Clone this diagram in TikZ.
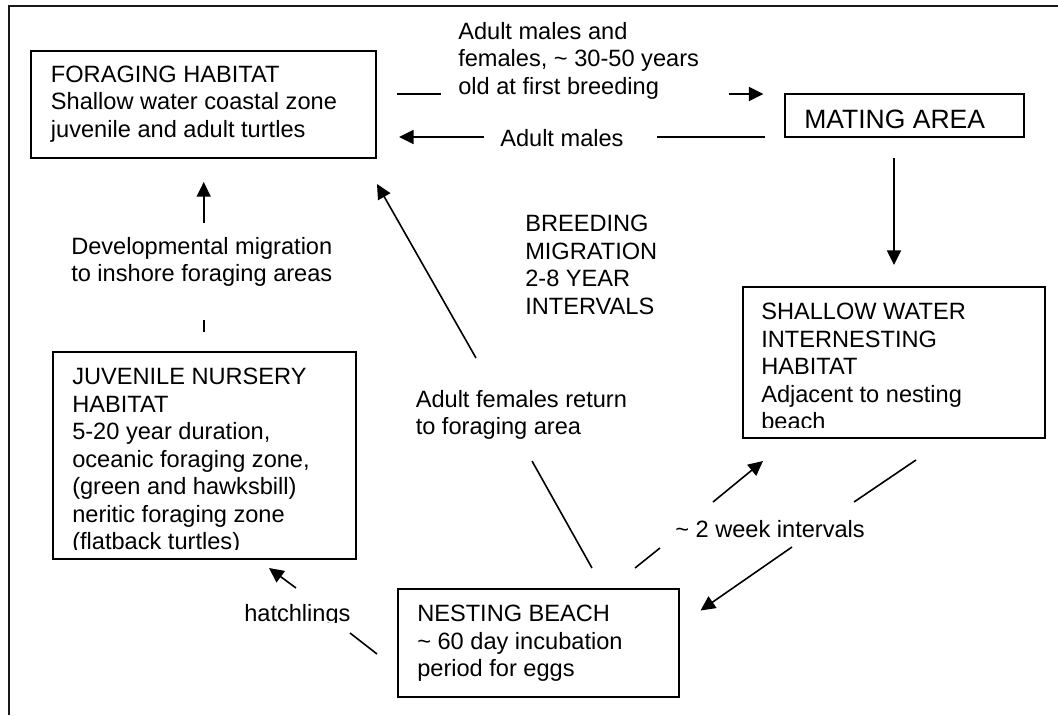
\documentclass[tikz,border=0pt]{standalone}
\usepackage{fontspec}
\setmainfont{Liberation Sans}
\usetikzlibrary{arrows.meta}
\begin{document}
\begin{tikzpicture}[x=0.75pt,y=-0.75pt,
  box/.style={draw=black, line width=1.6pt, inner sep=0pt},
  txt/.style={anchor=north west, inner sep=0pt, align=left, font=\fontsize{17.7}{20.6}\selectfont},
  bigtxt/.style={anchor=north west, inner sep=0pt, align=left, font=\fontsize{19.9}{23}\selectfont},
  conn/.style={line width=1.2pt, draw=black},
  arr/.style={conn, -{Triangle[length=11pt,width=10.5pt]}},
]
\useasboundingbox (0,0) rectangle (1058,715);
% outer frame
\draw[line width=1.6pt, draw=black!90] (9,715) -- (9,6) -- (1058,6);

% boxes
\node[box, minimum width=344.6*0.75pt, minimum height=107*0.75pt] (forage) at (203.7,104.5) {};
\node[box, minimum width=238.2*0.75pt, minimum height=43*0.75pt] (mating) at (904.5,115.5) {};
\node[box, minimum width=302*0.75pt, minimum height=151*0.75pt] (shallow) at (894,362.5) {};
\node[box, minimum width=302.7*0.75pt, minimum height=207*0.75pt] (juv) at (204.4,455.5) {};
\node[box, minimum width=281.4*0.75pt, minimum height=108*0.75pt] (nest) at (538.3,643) {};

% box texts
\node[txt] (forageT) at (50.7,65.7) {FORAGING HABITAT\\Shallow water coastal zone\\juvenile and adult turtles};
\node[bigtxt] (matingT) at (804,109.5) {MATING AREA};
\begin{scope}
\clip (743,287) rectangle (1045,427);
\node[txt] (shallowT) at (761,303) {SHALLOW WATER\\INTERNESTING\\HABITAT\\Adjacent to nesting\\beach};
\end{scope}
\begin{scope}
\clip (53,352) rectangle (355,549);
\node[txt] (juvT) at (72,368) {JUVENILE NURSERY\\HABITAT\\5-20 year duration,\\oceanic foraging zone,\\(green and hawksbill)\\neritic foraging zone\\(flatback turtles)};
\end{scope}
\node[txt] (nestT) at (417,605) {NESTING BEACH\\\textasciitilde{} 60 day incubation\\period for eggs};

% labels
\node[txt] (topL) at (458,22) {Adult males and\\females, \textasciitilde{} 30-50 years\\old at first breeding};
\node[txt] (malesL) at (500,128.7) {Adult males};
\node[txt] (breedL) at (525,215) {BREEDING\\MIGRATION\\2-8 YEAR\\INTERVALS};
\node[txt] (devL) at (71,237) {Developmental migration\\to inshore foraging areas};
\node[txt] (femL) at (415.5,390) {Adult females return\\to foraging area};
\node[txt] (weekL) at (675,520) {\textasciitilde{} 2 week intervals};
\begin{scope}
\clip (200,590) rectangle (360,622);
\node[txt] (hatchL) at (244,604) {hatchlings};
\end{scope}

% connector end points
\coordinate (c1a) at (397,94);   \coordinate (c1b) at (441,94);
\coordinate (c1c) at (729,94);   \coordinate (c1d) at (763.5,94);
\coordinate (c2a) at (765,137);  \coordinate (c2b) at (657,137);
\coordinate (c2c) at (484,137);  \coordinate (c2d) at (399,137);
\coordinate (c3a) at (894,158);  \coordinate (c3b) at (894,265);
\coordinate (c4a) at (203.7,332); \coordinate (c4b) at (203.7,320);
\coordinate (c4c) at (203.7,223); \coordinate (c4d) at (203.7,182);
\coordinate (c5a) at (592,568);  \coordinate (c5b) at (532,461);
\coordinate (c5c) at (476,358);  \coordinate (c5d) at (377,184);
\coordinate (c6a) at (635,568);  \coordinate (c6b) at (660,548);
\coordinate (c6c) at (713,502);  \coordinate (c6d) at (763,461);
\coordinate (c7a) at (916,460);  \coordinate (c7b) at (854,502);
\coordinate (c7c) at (792,547);  \coordinate (c7d) at (700.5,610.5);
\coordinate (c8a) at (377,654);  \coordinate (c8b) at (350,633);
\coordinate (c8c) at (296,588);  \coordinate (c8d) at (269,568);

% connectors
\draw[conn] (c1a) -- (c1b);  \draw[arr] (c1c) -- (c1d);
\draw[conn] (c2a) -- (c2b);  \draw[arr] (c2c) -- (c2d);
\draw[arr] (c3a) -- (c3b);
\draw[conn] (c4a) -- (c4b);  \draw[arr] (c4c) -- (c4d);
\draw[conn] (c5a) -- (c5b);  \draw[arr] (c5c) -- (c5d);
\draw[conn] (c6a) -- (c6b);  \draw[arr] (c6c) -- (c6d);
\draw[conn] (c7a) -- (c7b);  \draw[arr] (c7c) -- (c7d);
\draw[conn] (c8a) -- (c8b);  \draw[arr] (c8c) -- (c8d);
\end{tikzpicture}
\end{document}
